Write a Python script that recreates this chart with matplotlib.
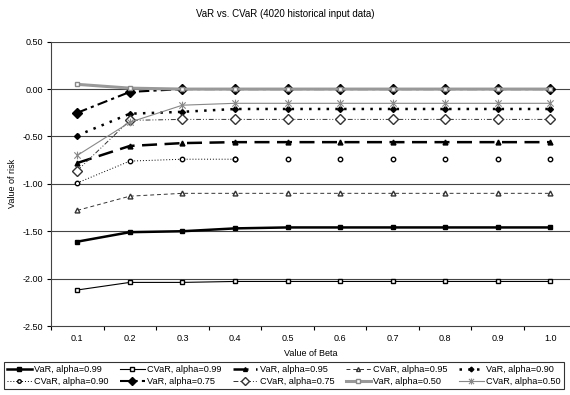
import numpy as np
from matplotlib import pyplot as plt
from matplotlib.path import Path
from matplotlib.ticker import FixedLocator, FormatStrFormatter

plt.rcParams['font.family'] = ['Liberation Sans', 'DejaVu Sans']
plt.rcParams['axes.unicode_minus'] = False

beta = [0.1, 0.2, 0.3, 0.4, 0.5, 0.6, 0.7, 0.8, 0.9, 1.0]
beta_labels = ['0.1', '0.2', '0.3', '0.4', '0.5', '0.6', '0.7', '0.8', '0.9', '1.0']

var99 = [-1.61, -1.51, -1.50, -1.47, -1.46, -1.46, -1.46, -1.46, -1.46, -1.46]
cvar99 = [-2.12, -2.04, -2.04, -2.03, -2.03, -2.03, -2.03, -2.03, -2.03, -2.03]
var95 = [-0.78, -0.60, -0.57, -0.56, -0.56, -0.56, -0.56, -0.56, -0.56, -0.56]
cvar95 = [-1.28, -1.13, -1.10, -1.10, -1.10, -1.10, -1.10, -1.10, -1.10, -1.10]
var90 = [-0.49, -0.26, -0.24, -0.21, -0.21, -0.21, -0.21, -0.21, -0.21, -0.21]
cvar90 = [-0.99, -0.76, -0.74, -0.74, -0.74, -0.74, -0.74, -0.74, -0.74, -0.74]
var75 = [-0.25, -0.03, 0.00, 0.00, 0.00, 0.00, 0.00, 0.00, 0.00, 0.00]
cvar75 = [-0.86, -0.33, -0.32, -0.32, -0.32, -0.32, -0.32, -0.32, -0.32, -0.32]
var50 = [0.05, 0.01, 0.00, 0.00, 0.00, 0.00, 0.00, 0.00, 0.00, 0.00]
cvar50 = [-0.70, -0.35, -0.17, -0.15, -0.15, -0.15, -0.15, -0.15, -0.15, -0.15]

# excel style asterisk marker (x plus vertical bar)
star = Path([(-1, -1), (1, 1), (-1, 1), (1, -1), (0, -1.2), (0, 1.2)],
            [Path.MOVETO, Path.LINETO, Path.MOVETO, Path.LINETO, Path.MOVETO, Path.LINETO])

fig = plt.figure(figsize=(5.7, 3.95), dpi=100)
ax = fig.add_axes([51/570, 1 - 326/395, 1 - 51/570, (326 - 41.7)/395])

grid_c = '#444444'
for yv in [0.5, 0.0, -0.5, -1.0, -1.5, -2.0]:
    ax.axhline(yv, color=grid_c, lw=0.8, zorder=0)

h = []
h += ax.plot(beta, var99, color='k', lw=1.8, marker='s', ms=3.2, label='VaR, alpha=0.99')
h += ax.plot(beta, cvar99, color='k', lw=0.8, marker='s', ms=3.2, mfc='white', label='CVaR, alpha=0.99')
h += ax.plot(beta, var95, color='k', lw=1.8, dashes=(6, 3), marker='^', ms=3.5, label='VaR, alpha=0.95')
h += ax.plot(beta, cvar95, color='#333333', lw=0.7, dashes=(4, 3), marker='^', ms=3.5, mfc='white', label='CVaR, alpha=0.95')
h += ax.plot(beta, var90, color='k', lw=1.8, dashes=(1, 2.5), marker='D', ms=3, label='VaR, alpha=0.90')
h += ax.plot(beta[:4], cvar90[:4], color='k', lw=0.7, dashes=(1, 2), marker='o', ms=3.2, mfc='white', label='CVaR, alpha=0.90')
ax.plot(beta[3:], cvar90[3:], ls='none', color='k', marker='o', ms=3.2, mfc='white')
h += ax.plot(beta, var75, color='k', lw=1.5, dashes=(5, 2, 1.5, 2), marker='D', ms=5.2, label='VaR, alpha=0.75')
h += ax.plot(beta, cvar75, color='#333333', lw=0.7, dashes=(5, 2, 1, 2, 1, 2), marker='D', ms=5.2, mfc='white', label='CVaR, alpha=0.75')
h += ax.plot(beta, var50, color='#999999', lw=2.2, marker='s', ms=3.2, mfc='white', mec='#888888', label='VaR, alpha=0.50')
h += ax.plot(beta, cvar50, color='#888888', lw=0.8, marker=star, ms=5.5, mew=0.8, label='CVaR, alpha=0.50')

ax.set_xlim(0.05, 1.0375)
ax.set_ylim(-2.5, 0.5)
ax.set_xticks(beta)
ax.set_xticklabels(beta_labels)
ax.xaxis.set_minor_locator(FixedLocator(np.arange(0.05, 1.05, 0.1)))
ax.tick_params(axis='x', which='major', length=0, labelsize=6.5, pad=6)
ax.tick_params(axis='x', which='minor', length=3, direction='out', width=0.8)
ax.set_yticks([0.5, 0.0, -0.5, -1.0, -1.5, -2.0, -2.5])
ax.yaxis.set_major_formatter(FormatStrFormatter('%.2f'))
ax.tick_params(axis='y', length=3, direction='out', width=0.8, labelsize=6.5, pad=3)

for s in ['top', 'right']:
    ax.spines[s].set_visible(False)
ax.spines['left'].set_color(grid_c)
ax.spines['bottom'].set_color(grid_c)
ax.spines['left'].set_linewidth(0.8)
ax.spines['bottom'].set_linewidth(0.8)

ax.set_xlabel('Value of Beta', fontsize=6.5, labelpad=4)
ax.set_ylabel('Value of risk', fontsize=6.5, labelpad=4)
fig.text(0.5, 1 - 14/395, 'VaR vs. CVaR (4020 historical input data)', ha='center', va='center', fontsize=7)

order = [0, 5, 1, 6, 2, 7, 3, 8, 4, 9]
leg = fig.legend([h[i] for i in order], [h[i].get_label() for i in order],
                 loc='upper left', bbox_to_anchor=(4/570, 1 - 362/395), ncol=5,
                 fontsize=6.6, frameon=True, fancybox=False, handlelength=2.7,
                 handletextpad=0.3, columnspacing=1.2, borderpad=0.3, labelspacing=0.35,
                 borderaxespad=0, markerscale=0.8)
leg.get_frame().set_edgecolor('k')
leg.get_frame().set_linewidth(0.8)

plt.savefig('out.png', dpi=100)
